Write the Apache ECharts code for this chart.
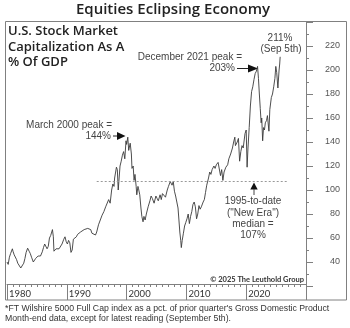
<!DOCTYPE html>
<html>
<head>
<meta charset="utf-8">
<script src="https://cdn.jsdelivr.net/npm/echarts@6/dist/echarts.min.js"></script>
<style>
html,body{margin:0;padding:0;background:#fff;}
#c{width:350px;height:328px;}
</style>
</head>
<body>
<div id="c"></div>
<script>
// Decimal years (month-ish sampling) and market cap as % of GDP
const years = [
 1980.0,1980.2,1980.4,1980.6,1980.9,1981.0,1981.2,1981.4,1981.6,1981.8,
 1982.0,1982.3,1982.6,1982.8,1983.0,1983.2,1983.45,1983.7,1983.9,1984.1,
 1984.4,1984.6,1984.8,1985.0,1985.2,1985.4,1985.6,1985.9,1986.1,1986.3,
 1986.5,1986.7,1986.9,1987.1,1987.3,1987.6,1987.75,1987.85,1988.0,1988.2,
 1988.4,1988.7,1989.0,1989.2,1989.5,1989.7,1989.9,1990.1,1990.3,1990.5,
 1990.7,1990.9,1991.1,1991.3,1991.6,1991.8,1992.0,1992.3,1992.6,1992.9,
 1993.2,1993.5,1993.8,1994.0,1994.2,1994.5,1994.8,1995.0,1995.3,1995.6,
 1995.9,1996.2,1996.5,1996.7,1997.0,1997.25,1997.5,1997.7,1997.9,1998.0,
 1998.3,1998.45,1998.6,1998.75,1998.9,1999.1,1999.3,1999.5,1999.7,1999.9,
 2000.0,2000.2,2000.35,2000.6,2000.8,2000.9,2001.1,2001.25,2001.4,2001.6,
 2001.7,2001.9,2002.0,2002.2,2002.4,2002.55,2002.75,2002.9,2003.1,2003.3,
 2003.6,2003.9,2004.1,2004.3,2004.6,2004.9,2005.1,2005.3,2005.6,2005.8,
 2006.0,2006.3,2006.5,2006.8,2007.0,2007.3,2007.5,2007.6,2007.8,2008.0,
 2008.2,2008.45,2008.6,2008.75,2008.9,2009.05,2009.15,2009.3,2009.5,2009.7,
 2009.9,2010.1,2010.3,2010.5,2010.7,2010.9,2011.1,2011.3,2011.5,2011.7,
 2011.9,2012.1,2012.3,2012.5,2012.8,2013.0,2013.2,2013.4,2013.7,2013.9,
 2014.1,2014.3,2014.6,2014.8,2015.0,2015.3,2015.5,2015.7,2015.9,2016.1,
 2016.3,2016.6,2016.9,2017.1,2017.4,2017.7,2017.9,2018.1,2018.2,2018.5,
 2018.7,2018.9,2019.1,2019.3,2019.5,2019.8,2020.0,2020.15,2020.3,2020.5,
 2020.7,2020.9,2021.1,2021.3,2021.5,2021.7,2021.9,2022.05,2022.2,2022.35,
 2022.5,2022.6,2022.75,2022.9,2023.05,2023.2,2023.4,2023.55,2023.8,2023.95,
 2024.2,2024.4,2024.6,2024.8,2024.95,2025.1,2025.3,2025.5,2025.6,2025.68
];
const values = [
 40,38,44,47,51,49,46,45,42,39,
 38,35,33.5,39,43,48,51.5,49,47,44,
 40,41,43,42,45,46,45,48.5,52,55,
 54,51,53,60,62,67,61,49,48,51,
 50,51,52,55,59,61,57,55,58,56,
 48,50,59,58,61,63,62,65,64,67,
 66,68,68.5,67,64,63,62.5,65,71,75,
 79,82,86,85,92,89,100,105,103,110,
 119,117,100,110,120,124,129,132,126,141,
 138,144,133,139,130,118,120,108,113,103,
 96,103,101,96,85,78,73.5,78,75,80,
 86,91,95,93,89,95,93,91,96,92,
 97,98,94,100,103,107,108,104,107,99,
 95,94,85,75,65,58,52,58,64,70,
 73,76,80,72,78,82,88,90,86,76,
 80,87,84,86,90,92,98,104,110,115,
 113,117,120,118,121,123,122,112,117,108,
 115,119,121,126,130,135,140,144,137,140,
 143,124,132,137,135,147,150,119,135,152,
 170,182,186,192,197,199,203,193,180,168,
 156,160,141,152,150,156,158,162,149,167,
 177,180,186,193,203,198,185,200,205,211
];
const yTicksMin = 20, yTicksMax = 240, yStep = 20;
const xMin = 1980, xMax = 2030, xStep = 10;
const medianValue = 107, medianFrom = 1995, medianTo = 2027;

const chart = echarts.init(document.getElementById('c'), null, {renderer:'canvas'});
const annFont = '10px "Liberation Sans", Arial, sans-serif';
const annColor = '#444';
const headFont = '"Open Sans", sans-serif';
function txt(text, x, y, align, font, fill){
  return {type:'text', silent:true, style:{text:text, x:x, y:y, textAlign:align||'left', textVerticalAlign:'middle', font:font||annFont, fill:fill||annColor}};
}
const option = {
  animation:false,
  backgroundColor:'#fff',
  grid:{left:7, right:44, top:22, bottom:42, containLabel:false},
  xAxis:{
    type:'value', min:xMin, max:xMax, interval:xStep, offset:-2,
    axisLine:{show:true, lineStyle:{color:'#808080', width:1}},
    axisTick:{show:true, inside:false, length:16, lineStyle:{color:'#808080'}},
    minorTick:{show:true, splitNumber:10, length:3, lineStyle:{color:'#808080'}},
    splitLine:{show:false},
    axisLabel:{show:true, align:'left', margin:5, padding:[0,0,0,2], color:'#333',
      fontFamily:'Lato, sans-serif', fontSize:9.5,
      formatter:v => (v===xMax ? '' : String(v))}
  },
  yAxis:{
    type:'value', position:'right', min:yTicksMin, max:yTicksMax, interval:yStep,
    axisLine:{show:true, lineStyle:{color:'#808080', width:1}},
    axisTick:{show:true, inside:false, length:7, lineStyle:{color:'#808080'}},
    minorTick:{show:true, splitNumber:2, length:3, lineStyle:{color:'#808080'}},
    splitLine:{show:false},
    axisLabel:{show:true, align:'right', margin:34, color:'#555',
      fontFamily:'"Liberation Sans", Arial, sans-serif', fontSize:9,
      formatter:v => (v===yTicksMin || v===yTicksMax ? '' : String(v))}
  },
  series:[{
    type:'line', data:years.map((y,i)=>[y, values[i]]), showSymbol:false, symbol:'none',
    lineStyle:{color:'#3a3a3a', width:0.9}, silent:true,
    markLine:{silent:true, symbol:['none','none'], label:{show:false},
      lineStyle:{color:'#999', type:[2,2], width:1},
      data:[[{coord:[medianFrom, medianValue]},{coord:[medianTo, medianValue]}]]}
  }],
  graphic:[
    {type:'rect', silent:true, shape:{x:5.5, y:21.5, width:341, height:278.5}, style:{fill:'none', stroke:'#808080', lineWidth:1}},
    txt('Equities Eclipsing Economy', 173, 10, 'center', '600 15px ' + headFont, '#222'),
    txt('U.S. Stock Market', 8, 31.5, 'left', '600 13px ' + headFont, '#222'),
    txt('Capitalization As A', 8, 47, 'left', '600 13px ' + headFont, '#222'),
    txt('% Of GDP', 8, 62.5, 'left', '600 13px ' + headFont, '#222'),
    txt('December 2021 peak =', 242, 57, 'right'),
    txt('203%', 235, 68.5, 'right'),
    {type:'line', silent:true, shape:{x1:237, y1:68.5, x2:249, y2:68.5}, style:{stroke:'#222', lineWidth:1}},
    {type:'polygon', silent:true, shape:{points:[[248,64.5],[258,68.5],[248,72.5]]}, style:{fill:'#111'}},
    txt('211%', 280, 38, 'center'),
    txt('(Sep 5th)', 281, 49.5, 'center'),
    txt('March 2000 peak =', 112, 125, 'right'),
    txt('144%', 111, 136, 'right'),
    {type:'line', silent:true, shape:{x1:113, y1:136, x2:118, y2:136}, style:{stroke:'#222', lineWidth:1}},
    {type:'polygon', silent:true, shape:{points:[[117,132],[125.5,136],[117,140]]}, style:{fill:'#111'}},
    {type:'polygon', silent:true, shape:{points:[[254,182.5],[250.3,189.5],[257.7,189.5]]}, style:{fill:'#111'}},
    {type:'line', silent:true, shape:{x1:254, y1:189, x2:254, y2:195}, style:{stroke:'#444', lineWidth:1}},
    txt('1995-to-date', 253, 201.5, 'center'),
    txt('("New Era")', 253, 213, 'center'),
    txt('median =', 253, 224.5, 'center'),
    txt('107%', 253, 235.5, 'center'),
    txt('\u00a9 2025 The Leuthold Group', 304, 280, 'right', 'bold 7.5px Lato, sans-serif', '#333'),
    txt("*FT Wilshire 5000 Full Cap index as a pct. of prior quarter's Gross Domestic Product", 5, 308.5, 'left', '8.7px "Liberation Sans", Arial, sans-serif', '#333'),
    txt('Month-end data, except for latest reading (September 5th).', 5, 319, 'left', '8.7px "Liberation Sans", Arial, sans-serif', '#333')
  ]
};
chart.setOption(option);
</script>
</body>
</html>
